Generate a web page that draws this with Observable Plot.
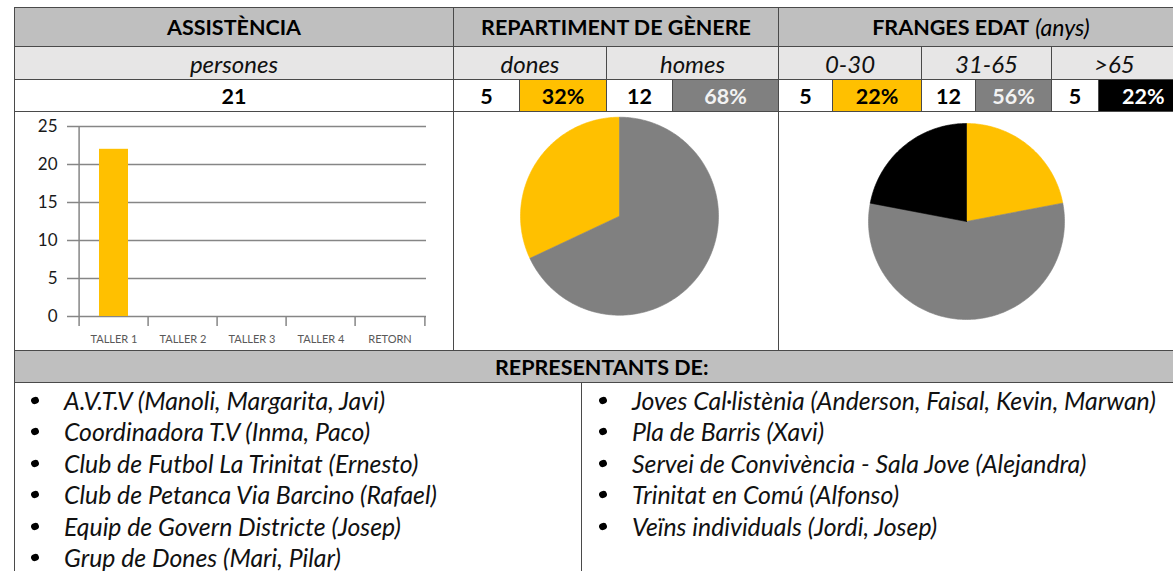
<!DOCTYPE html>
<html>
<head>
<meta charset="utf-8">
<script src="https://cdn.jsdelivr.net/npm/d3@7"></script>
<script src="https://cdn.jsdelivr.net/npm/@observablehq/plot@0.6"></script>
<style>
html, body { margin: 0; padding: 0; background: #fff; }
body { width: 1173px; height: 571px; overflow: hidden; position: relative; font-family: Lato, "Open Sans", sans-serif; color: #000; }
.cell { position: absolute; box-sizing: border-box; border: 1px solid #4a4a4a; display: flex; align-items: center; justify-content: center; white-space: nowrap; }
.h1 { background: #bfbfbf; font-weight: 700; font-size: 21.5px; }
.h2 { background: #e7e6e6; font-style: italic; font-size: 24px; color: #111; }
.num { background: #fff; font-weight: 700; font-size: 21.5px; }
.plain { background: #fff; }
.note { font-weight: 400; font-style: italic; margin-left: 6px; font-size: 23px; }
.chart { position: absolute; }
.list { position: absolute; margin: 0; padding: 0; list-style: none; font-style: italic; font-size: 24.8px; line-height: 31.4px; color: #111; }
.list li { position: relative; padding-left: 29px; white-space: nowrap; }
.list li::before { content: ""; position: absolute; left: -4px; top: 12px; width: 8px; height: 7px; border-radius: 50%; background: #000; transform: rotate(-20deg); }
</style>
</head>
<body>
<script>
// ---------------- data ----------------
const headerTitles = ["ASSISTÈNCIA", "REPARTIMENT DE GÈNERE", "FRANGES EDAT"];
const headerNote = "(anys)";
const attendanceUnit = "persones";
const totalPersons = 21;
const genderLabels = ["dones", "homes"];
const genderCounts = [5, 12];
const genderPercents = [32, 68];
const ageLabels = ["0-30", "31-65", ">65"];
const ageCounts = [5, 12, 5];
const agePercents = [22, 56, 22];
const sessions = ["TALLER 1", "TALLER 2", "TALLER 3", "TALLER 4", "RETORN"];
const sessionAttendance = [22, null, null, null, null];
const yTicks = [0, 5, 10, 15, 20, 25];
const representativesTitle = "REPRESENTANTS DE:";
const representativesLeft = [
  "A.V.T.V (Manoli, Margarita, Javi)",
  "Coordinadora T.V (Inma, Paco)",
  "Club de Futbol La Trinitat (Ernesto)",
  "Club de Petanca Via Barcino (Rafael)",
  "Equip de Govern Districte (Josep)",
  "Grup de Dones (Mari, Pilar)"
];
const representativesRight = [
  "Joves Cal·listènia (Anderson, Faisal, Kevin, Marwan)",
  "Pla de Barris (Xavi)",
  "Servei de Convivència - Sala Jove (Alejandra)",
  "Trinitat en Comú (Alfonso)",
  "Veïns individuals (Jordi, Josep)"
];

// ---------------- styles ----------------
const genderColors = ["#ffc000", "#808080"];
const ageColors = ["#ffc000", "#808080", "#000000"];
const pctTextColors = {"#ffc000": "#000", "#808080": "#f2f2f2", "#000000": "#fff"};
const gridColor = "#868686";

// ---------------- layout ----------------
const body = document.body;
function cell(x0, x1, y0, y1, cls, html, extra) {
  const d = document.createElement("div");
  d.className = "cell " + cls;
  d.style.left = x0 + "px"; d.style.top = y0 + "px";
  d.style.width = (x1 - x0) + "px"; d.style.height = (y1 - y0) + "px";
  if (html != null) d.innerHTML = html;
  if (extra) Object.assign(d.style, extra);
  body.appendChild(d);
  return d;
}
const L = 14, C1 = 453, C2 = 778, R = 1190;
const rA = 7, rB = 46, rC = 79, rD = 111, rE = 350, rF = 382, rG = 590;

// Row A: titles
cell(L, C1 + 1, rA, rB + 1, "h1", headerTitles[0]);
cell(C1, C2 + 1, rA, rB + 1, "h1", headerTitles[1]);
cell(C2, R, rA, rB + 1, "h1", headerTitles[2] + `<span class="note">${headerNote}</span>`, {paddingRight: "6px"});

// Row B: sub labels
cell(L, C1 + 1, rB, rC + 1, "h2", attendanceUnit);
const gB = [C1, 606, C2];
genderLabels.forEach((t, i) => cell(gB[i], gB[i + 1] + 1, rB, rC + 1, "h2", t));
const aB = [C2, 921, 1051, R];
ageLabels.forEach((t, i) => cell(aB[i], aB[i + 1] + (i < 2 ? 1 : 0), rB, rC + 1, "h2", t, i === 2 ? {justifyContent: "flex-start", paddingLeft: "42px"} : null));

// Row C: numbers
cell(L, C1 + 1, rC, rD + 1, "num", String(totalPersons));
const gSplit = [519, 672];
genderLabels.forEach((t, i) => {
  cell(gB[i], gSplit[i] + 1, rC, rD + 1, "num", String(genderCounts[i]));
  cell(gSplit[i], gB[i + 1] + 1, rC, rD + 1, "num", genderPercents[i] + "%",
       {background: genderColors[i], color: pctTextColors[genderColors[i]]});
});
const aSplit = [832, 975, 1098];
ageLabels.forEach((t, i) => {
  cell(aB[i], aSplit[i] + 1, rC, rD + 1, "num", String(ageCounts[i]));
  cell(aSplit[i], aB[i + 1] + (i < 2 ? 1 : 0), rC, rD + 1, "num", agePercents[i] + "%",
       {background: ageColors[i], color: pctTextColors[ageColors[i]], justifyContent: i === 2 ? "flex-start" : "center", paddingLeft: i === 2 ? "23px" : "0"});
});

// Row D: chart cells
cell(L, C1 + 1, rD, rE + 1, "plain");
cell(C1, C2 + 1, rD, rE + 1, "plain");
cell(C2, R, rD, rE + 1, "plain");

// Row E: title
cell(L, R, rE, rF + 1, "h1", representativesTitle, {justifyContent: "flex-start", paddingLeft: "480px"});

// Row F: lists
cell(L, 582, rF, rG, "plain");
cell(581, R, rF, rG, "plain");
function list(items, x, y) {
  const ul = document.createElement("ul");
  ul.className = "list";
  ul.style.left = x + "px"; ul.style.top = y + "px";
  items.forEach(t => { const li = document.createElement("li"); li.textContent = t; ul.appendChild(li); });
  body.appendChild(ul);
}
list(representativesLeft, 35, 385);
list(representativesRight, 603, 385);

// ---------------- bar chart ----------------
const barW = C1 - L, barH = rE - rD;
const mL = 63, mR = 27, mT = 15, mB = 34;
const step = (barW - mL - mR) / sessions.length;
const barData = sessions.map((s, i) => ({session: s, value: sessionAttendance[i]}));
const bar = Plot.plot({
  width: barW, height: barH,
  marginLeft: mL, marginRight: mR, marginTop: mT, marginBottom: mB,
  style: {fontFamily: "Lato, sans-serif", background: "transparent", overflow: "visible"},
  x: {domain: sessions, paddingInner: 0.585, paddingOuter: 0.2925, label: null},
  y: {domain: [0, 25], label: null},
  marks: [
    Plot.gridY(yTicks, {stroke: gridColor, strokeOpacity: 1, strokeWidth: 1.5}),
    Plot.axisY(yTicks, {tickSize: 10, tickPadding: 10, stroke: gridColor, strokeWidth: 1.5, fill: "#1a1a1a", fontSize: 17, label: null}),
    Plot.ruleX([sessions[0]], {dx: -step / 2, stroke: gridColor, strokeWidth: 1.5}),
    Plot.axisX({tickSize: 0, tickPadding: 19, fill: "#595959", fontSize: 11, label: null}),
    Plot.axisX(sessions, {text: null, tickSize: 10, dx: -step / 2, stroke: gridColor, strokeWidth: 1.5, label: null}),
    Plot.axisX([sessions[sessions.length - 1]], {text: null, tickSize: 10, dx: step / 2, stroke: gridColor, strokeWidth: 1.5, label: null}),
    Plot.barY(barData.filter(d => d.value != null), {x: "session", y: "value", fill: "#ffc000"})
  ]
});
bar.classList.add("chart");
bar.style.left = L + "px"; bar.style.top = rD + "px";
body.appendChild(bar);

// ---------------- pies ----------------
function pieData(labels, values, start) {
  const total = d3.sum(values);
  const pts = [];
  let a = start;
  labels.forEach((lab, i) => {
    const a1 = a + values[i] / total * 2 * Math.PI;
    const n = Math.max(2, Math.ceil((a1 - a) / (Math.PI / 180)));
    pts.push({label: lab, x: 0, y: 0});
    for (let k = 0; k <= n; k++) {
      const t = a + (a1 - a) * k / n;
      pts.push({label: lab, x: Math.sin(t), y: Math.cos(t)});
    }
    pts.push({label: lab, x: 0, y: 0});
    a = a1;
  });
  return pts;
}
function pie(labels, values, colors, start, w, h, cx, cy, r) {
  return Plot.plot({
    width: w, height: h, margin: 0,
    style: {background: "transparent", overflow: "visible"},
    x: {domain: [-1, 1], range: [cx - r, cx + r], axis: null},
    y: {domain: [-1, 1], range: [cy + r, cy - r], axis: null},
    color: {domain: labels, range: colors},
    marks: [
      Plot.line(pieData(labels, values, start), {x: "x", y: "y", z: "label", fill: "label", stroke: "label", strokeWidth: 0.6, curve: "linear"})
    ]
  });
}
const gStart = -genderPercents[0] / d3.sum(genderPercents) * 2 * Math.PI;
const p1 = pie(genderLabels, genderPercents, genderColors, gStart, C2 - C1, rE - rD, 619 - C1, 215.7 - rD, 99);
p1.classList.add("chart"); p1.style.left = C1 + "px"; p1.style.top = rD + "px";
body.appendChild(p1);
const p2 = pie(ageLabels, agePercents, ageColors, 0, R - C2, rE - rD, 966 - C2, 221 - rD, 98);
p2.classList.add("chart"); p2.style.left = C2 + "px"; p2.style.top = rD + "px";
body.appendChild(p2);
</script>
</body>
</html>
